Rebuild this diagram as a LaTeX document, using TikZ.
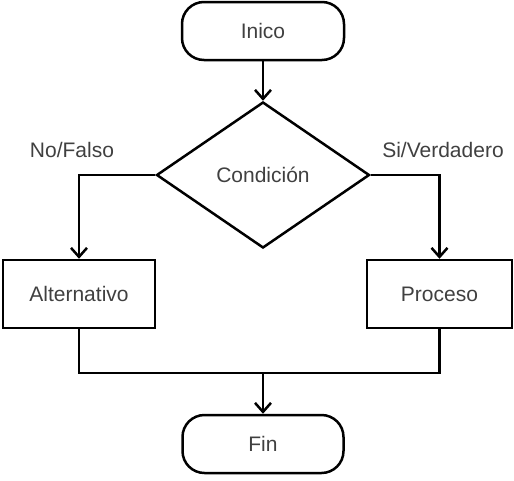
\documentclass[tikz,border=0pt]{standalone}
\usepackage{fontspec}
\setmainfont{Liberation Sans}
\usetikzlibrary{shapes.geometric,arrows.meta}
\begin{document}
\begin{tikzpicture}[x=1pt,y=-1pt,
  every node/.style={font=\fontsize{21}{24}\selectfont, text=black!75},
  term/.style={draw=black, line width=2.5pt, rounded corners=22pt, minimum width=162pt, minimum height=58pt, inner sep=0pt},
  procbox/.style={draw=black, line width=2.5pt, minimum height=68pt, inner sep=0pt},
  decision/.style={draw=black, line width=2.5pt, diamond, aspect=1.46, minimum width=213pt, minimum height=146pt, inner sep=0pt},
  conn/.style={draw=black, line width=2.5pt, -{Straight Barb[length=9pt,width=16pt,line width=2.5pt]}},
  plain/.style={draw=black, line width=2.5pt},
  lbl/.style={text=black!75}]
\useasboundingbox (0,0) rectangle (514,480);
\node[term] (ini) at (263,31) {Inico};
\node[decision] (cond) at (263,175) {Condición};
\node[procbox, minimum width=152pt] (alt) at (79,294) {Alternativo};
\node[procbox, minimum width=145pt] (proc) at (439.5,294) {Proceso};
\node[term, minimum width=161pt] (fin) at (263,444) {Fin};
\node[lbl] (no) at (72,150) {No/Falso};
\node[lbl] (si) at (443,150) {Si/Verdadero};
\coordinate (j) at (263,373);
\draw[conn] (ini.south) -- (cond.north);
\draw[conn] (cond.west) -| (alt.north);
\draw[conn] (cond.east) -| (proc.north);
\draw[plain] (alt.south) |- (j);
\draw[plain] (proc.south) |- (j);
\draw[conn] (j) -- (fin.north);
\end{tikzpicture}
\end{document}
